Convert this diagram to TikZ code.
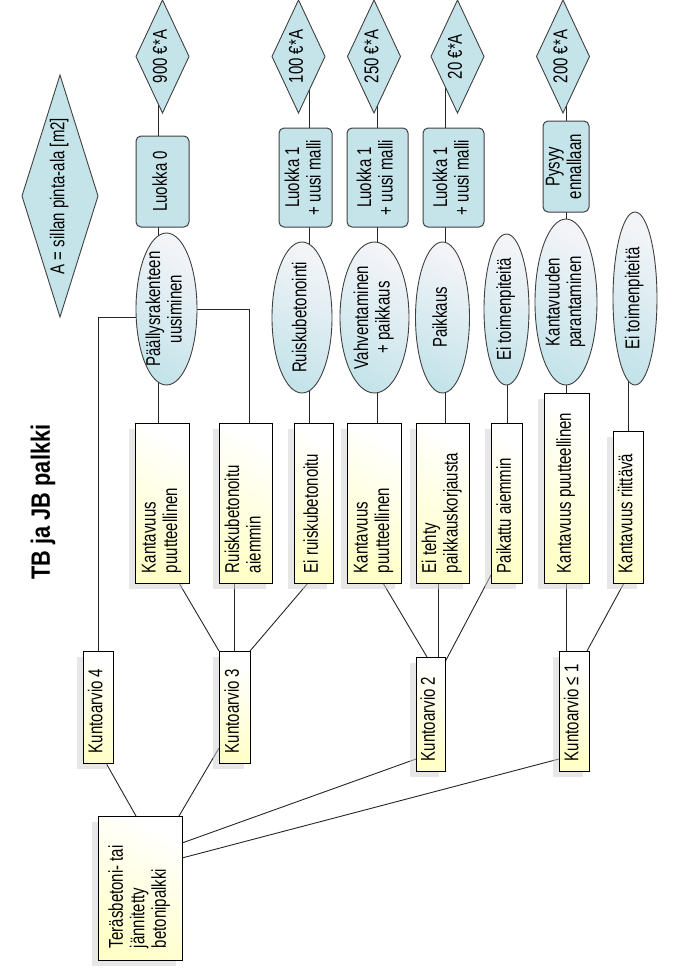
\documentclass[tikz,border=0pt]{standalone}
\usepackage{fontspec}
\usepackage{graphicx}
\setmainfont{Liberation Sans}[FakeStretch=0.75]
\newfontfamily\titlefont{Liberation Sans}[FakeStretch=0.82]
\usetikzlibrary{shapes.geometric,shadows}
\pgfdeclarelayer{bg}
\pgfdeclarelayer{lines}
\pgfsetlayers{bg,lines,main}
\definecolor{diaB}{RGB}{197,228,234}
\definecolor{ellW}{RGB}{243,244,248}
\definecolor{yelB}{RGB}{255,255,200}
\newcommand{\rtc}[1]{\makebox[0pt]{\raisebox{-0.5\height}[0pt][0pt]{\rotatebox{90}{\begin{tabular}{@{}c@{}}#1\end{tabular}}}}}
\newcommand{\rtl}[2]{\makebox[0pt]{\raisebox{-0.5\height}[0pt][0pt]{\rotatebox{90}{\makebox[#1][l]{\begin{tabular}{@{}l@{}}#2\end{tabular}}}}}}
\begin{document}
\begin{tikzpicture}[x=1pt,y=-1pt,
  every node/.style={inner sep=0pt, outer sep=0pt, font=\fontsize{20}{21.5}\selectfont},
  dia/.style={diamond, draw=black!75, fill=diaB, line width=0.9pt, minimum width=53pt, minimum height=113pt},
  rbox/.style={rectangle, rounded corners=5pt, draw=black!75, fill=diaB, line width=1pt},
  ell/.style={ellipse, draw=black!75, top color=ellW, bottom color=diaB, shading angle=-30, line width=0.9pt},
  ybox/.style={rectangle, draw=black, top color=white, bottom color=yelB, shading angle=-30, line width=0.9pt,
    drop shadow={shadow xshift=-6pt, shadow yshift=-6pt, fill=black!18}},
  conn/.style={draw=black!85, line width=0.9pt}]
\useasboundingbox (0,0) rectangle (677,978);
\begin{pgfonlayer}{bg}
\fill[white] (0,0) rectangle (677,978);
\end{pgfonlayer}

% title
\node (T) at (43,502) {\rotatebox{90}{\titlefont\bfseries\fontsize{26.5}{28}\selectfont TB ja JB palkki}};

% diamonds
\node[dia, minimum width=76pt, minimum height=242pt] (D0) at (60,196) {\rtc{A = sillan pinta-ala [m2]}};
\node[dia] (D1) at (162.5,56.5) {\rtc{900 €*A}};
\node[dia] (D2) at (298.5,56.5) {\rtc{100 €*A}};
\node[dia] (D3) at (374,56.5) {\rtc{250 €*A}};
\node[dia] (D4) at (457.5,56.5) {\rtc{20 €*A}};
\node[dia] (D5) at (563,56.5) {\rtc{200 €*A}};

% rounded blue boxes
\node[rbox, minimum width=53pt, minimum height=91pt] (B1) at (162.5,181.5) {\rtc{Luokka 0}};
\node[rbox, minimum width=53pt, minimum height=99pt] (B2) at (305.5,177.5) {\rtc{Luokka 1\\+ uusi malli}};
\node[rbox, minimum width=61pt, minimum height=99pt] (B3) at (377.5,177.5) {\rtc{Luokka 1\\+ uusi malli}};
\node[rbox, minimum width=61pt, minimum height=99pt] (B4) at (453.5,177.5) {\rtc{Luokka 1\\+ uusi malli}};
\node[rbox, minimum width=46pt, minimum height=91pt] (B5) at (566,166.5) {\rtc{Pysyy\\ennallaan}};

% ellipses
\node[ell, minimum width=61pt, minimum height=152pt] (E1) at (166.5,309) {\rtc{Päällysrakenteen\\uusiminen}};
\node[ell, minimum width=60pt, minimum height=151pt] (E2) at (302,317.5) {\rtc{Ruiskubetonointi}};
\node[ell, minimum width=69pt, minimum height=151pt] (E3) at (374.5,317.5) {\rtc{Vahventaminen\\+ paikkaus}};
\node[ell, minimum width=54pt, minimum height=151pt] (E4) at (442.5,317.5) {\rtc{Paikkaus}};
\node[ell, minimum width=45pt, minimum height=151pt] (E5) at (506.5,309.5) {\rtc{Ei toimenpiteitä}};
\node[ell, minimum width=62pt, minimum height=166pt] (E6) at (566,302) {\rtc{Kantavuuden\\parantaminen}};
\node[ell, minimum width=44pt, minimum height=173pt] (E7) at (635,298.5) {\rtc{Ei toimenpiteitä}};

% yellow boxes
\node[ybox, minimum width=54pt, minimum height=160pt] (KP1) at (162,503) {\rtl{140pt}{Kantavuus\\puutteellinen}};
\node[ybox, minimum width=53pt, minimum height=160pt] (RA) at (245.5,503) {\rtl{140pt}{Ruiskubetonoitu\\aiemmin}};
\node[ybox, minimum width=39pt, minimum height=160pt] (ER) at (313.5,503) {\rtl{140pt}{Ei ruiskubetonoitu}};
\node[ybox, minimum width=54pt, minimum height=160pt] (KP2) at (374,503) {\rtl{140pt}{Kantavuus\\puutteellinen}};
\node[ybox, minimum width=53pt, minimum height=160pt] (ET) at (442.5,503) {\rtl{140pt}{Ei tehty\\paikkauskorjausta}};
\node[ybox, minimum width=31pt, minimum height=160pt] (PA) at (506.5,503) {\rtl{140pt}{Paikattu aiemmin}};
\node[ybox, minimum width=45pt, minimum height=190pt] (KP3) at (566.5,488) {\rtl{170pt}{Kantavuus puutteellinen}};
\node[ybox, minimum width=30pt, minimum height=152pt] (KR) at (628,507) {\rtl{132pt}{Kantavuus riittävä}};
\node[ybox, minimum width=30pt, minimum height=112pt] (K4) at (98,707) {\rtl{92pt}{Kuntoarvio 4}};
\node[ybox, minimum width=31pt, minimum height=112pt] (K3) at (234.5,707) {\rtl{92pt}{Kuntoarvio 3}};
\node[ybox, minimum width=29pt, minimum height=114pt] (K2) at (430.5,714) {\rtl{94pt}{Kuntoarvio 2}};
\node[ybox, minimum width=30pt, minimum height=120pt] (K1) at (574,711) {\rtl{100pt}{Kuntoarvio ≤ 1}};
\node[ybox, minimum width=84pt, minimum height=144pt] (R) at (140,888) {\rtl{120pt}{Teräsbetoni- tai\\jännitetty\\betonipalkki}};

% column x positions
\coordinate (c1) at (158,0);
\coordinate (c2) at (309,0);
\coordinate (c3) at (377,0);
\coordinate (c4) at (445,0);
\coordinate (c5) at (507,0);
\coordinate (c6) at (566.5,0);
\coordinate (c7) at (628,0);

\begin{pgfonlayer}{lines}
\draw[conn] (c1 |- D1.center) -- (c1 |- KP1.north);
\draw[conn] (c2 |- D2.center) -- (c2 |- ER.north);
\draw[conn] (c3 |- D3.center) -- (c3 |- KP2.north);
\draw[conn] (c4 |- D4.center) -- (c4 |- ET.north);
\draw[conn] (c5 |- E5.center) -- (c5 |- PA.north);
\draw[conn] (c6 |- D5.center) -- (c6 |- KP3.north);
\draw[conn] (c7 |- E7.center) -- (c7 |- KR.north);
\draw[conn] ([yshift=-8pt]E1.center) -| (K4.north);
\draw[conn] (E1.center) -| ([xshift=3.5pt]RA.north);
% to Kuntoarvio 3
\draw[conn] ([xshift=17pt]KP1.south) -- (K3.north west);
\draw[conn] (K3.north) -- (K3.north |- RA.south);
\draw[conn] ([xshift=-5.5pt]ER.south) -- (K3.north east);
% to Kuntoarvio 2
\draw[conn] ([xshift=9pt]KP2.south) -- ([xshift=-3.5pt]K2.north);
\draw[conn] ([xshift=-4.5pt]ET.south) -- ([xshift=-4.5pt]ET.south |- K2.north);
\draw[conn] ([yshift=8pt]PA.south west) -- ([yshift=-5pt]K2.north east);
% to Kuntoarvio <=1
\draw[conn] (KP3.south) -- (KP3.south |- K1.north);
\draw[conn] ([xshift=-4pt]KR.south) -- ([xshift=-2pt]K1.north east);
% to root
\draw[conn] ([xshift=8pt]K4.south) -- ([xshift=-4pt]R.north);
\draw[conn] ([yshift=15pt]K3.south west) -- ([xshift=-3pt]R.north east);
\draw[conn] ([yshift=45pt]R.east) -- ([yshift=12pt]K2.south west);
\draw[conn] ([yshift=30pt]R.east) -- ([yshift=12pt]K1.south west);
\end{pgfonlayer}
\end{tikzpicture}
\end{document}
